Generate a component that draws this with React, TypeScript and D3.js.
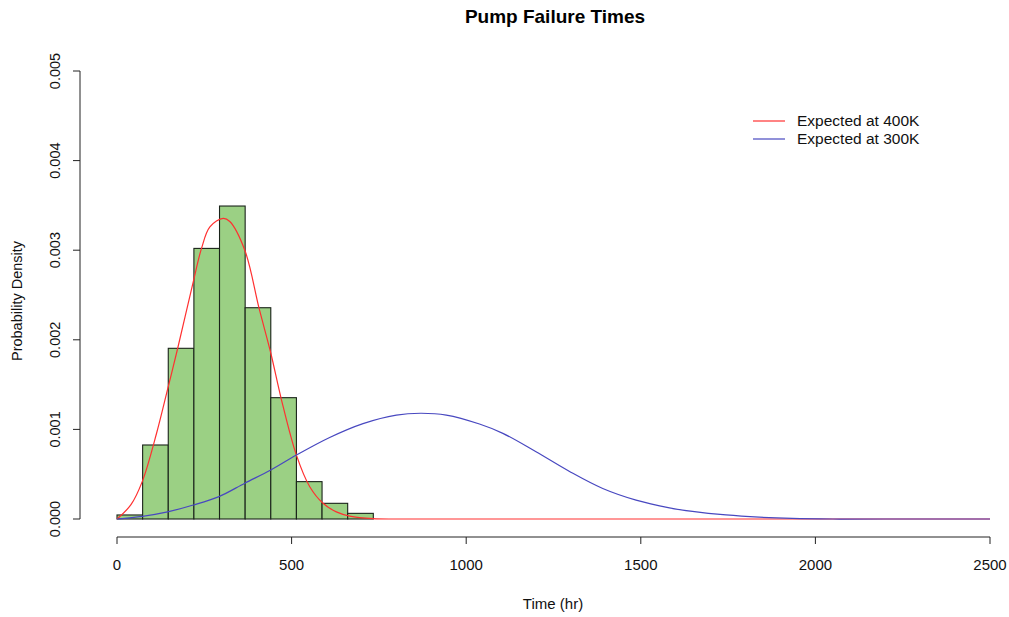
import React from "react";
import * as d3 from "d3";

const binEdges = [0, 73.4, 146.8, 220.2, 293.6, 367, 440.4, 513.8, 587.2, 660.6, 734];
const binDensity = [0.000045, 0.000826, 0.001905, 0.00302, 0.003493, 0.002358, 0.001354, 0.000417, 0.000175, 0.000063];

const redT = [0, 40, 72.5, 113.5, 145, 173.5, 218.5, 242, 266, 304, 323, 366, 407, 440.5, 471, 514, 552, 590, 628, 666.5, 733, 800, 900, 1200, 1600, 2000, 2500];
const redD = [0, 0.00016, 0.00042, 0.00096, 0.00145, 0.0019, 0.00265, 0.00302, 0.00326, 0.003356, 0.00332, 0.003, 0.00235, 0.00185, 0.00133, 0.00071, 0.00036, 0.000175, 0.00008, 0.000033, 0.000004, 0, 0, 0, 0, 0, 0];

const blueT = [0, 72.5, 145, 218.5, 292, 366, 440.5, 514, 609, 704.5, 800, 870, 943, 1038, 1105, 1200, 1296, 1391, 1486.5, 1582, 1648, 1744, 1839, 1934, 2050, 2200, 2500];
const blueD = [0, 0.00003, 0.00008, 0.000156, 0.00025, 0.0004, 0.000547, 0.000714, 0.00091, 0.001065, 0.00116, 0.00118, 0.00116, 0.00106, 0.000956, 0.00075, 0.00053, 0.00034, 0.00021, 0.000125, 0.000085, 0.000045, 0.00002, 0.000006, 0, 0, 0];

const xTicks = [0, 500, 1000, 1500, 2000, 2500];
const yTicks = [0, 0.001, 0.002, 0.003, 0.004, 0.005];
const legendLabels = ["Expected at 400K", "Expected at 300K"];
const legendColors = ["#ff3030", "#4848c0"];

export default function App() {
  const W = 1009, H = 617;
  const x = d3.scaleLinear().domain([0, 2500]).range([117, 990]);
  const y = d3.scaleLinear().domain([0, 0.005]).range([519, 71]);
  const font = "'Liberation Sans', Arial, Helvetica, sans-serif";

  const line = d3
    .line<[number, number]>()
    .x((d) => x(d[0]))
    .y((d) => Math.min(y(0), y(d[1])))
    .curve(d3.curveCatmullRom.alpha(0.5));

  const redPts = redT.map((t, i) => [t, redD[i]] as [number, number]);
  const bluePts = blueT.map((t, i) => [t, blueD[i]] as [number, number]);

  return (
    <svg width={W} height={H} style={{ position: "absolute", left: 0, top: 0, background: "#fff" }} fontFamily={font}>
      <rect x={0} y={0} width={W} height={H} fill="#fff" />
      <text x={555} y={23} textAnchor="middle" fontWeight="bold" fontSize={19} fill="#000">
        Pump Failure Times
      </text>

      {binDensity.map((d, i) => (
        <rect
          key={i}
          x={x(binEdges[i])}
          y={y(d)}
          width={x(binEdges[i + 1]) - x(binEdges[i])}
          height={y(0) - y(d)}
          fill="#9bd084"
          stroke="#1a231a"
          strokeWidth={1.1}
        />
      ))}

      <path d={line(redPts) || ""} fill="none" stroke={legendColors[0]} strokeWidth={1.2} />
      <path d={line(bluePts) || ""} fill="none" stroke={legendColors[1]} strokeWidth={1.2} />

      {/* x axis */}
      <line x1={x(0)} x2={x(2500)} y1={537} y2={537} stroke="#222" />
      {xTicks.map((t) => (
        <g key={t}>
          <line x1={x(t)} x2={x(t)} y1={537} y2={544} stroke="#222" />
          <text x={x(t)} y={570} textAnchor="middle" fontSize={15} fill="#111">
            {t}
          </text>
        </g>
      ))}
      <text x={553} y={609} textAnchor="middle" fontSize={15} fill="#111">
        Time (hr)
      </text>

      {/* y axis */}
      <line x1={80} x2={80} y1={y(0)} y2={y(0.005)} stroke="#222" />
      {yTicks.map((t) => (
        <g key={t}>
          <line x1={73} x2={80} y1={y(t)} y2={y(t)} stroke="#222" />
          <text
            transform={`translate(60,${y(t)}) rotate(-90)`}
            textAnchor="middle"
            fontSize={14.5}
            fill="#111"
          >
            {t.toFixed(3)}
          </text>
        </g>
      ))}
      <text transform={`translate(22,301) rotate(-90)`} textAnchor="middle" fontSize={14.5} fill="#111">
        Probability Density
      </text>

      {/* legend */}
      {legendLabels.map((l, i) => (
        <g key={l}>
          <line x1={753} x2={785} y1={121 + i * 18} y2={121 + i * 18} stroke={legendColors[i]} strokeWidth={1.2} />
          <text x={797} y={126 + i * 18} fontSize={15.5} fill="#111">
            {l}
          </text>
        </g>
      ))}
    </svg>
  );
}
